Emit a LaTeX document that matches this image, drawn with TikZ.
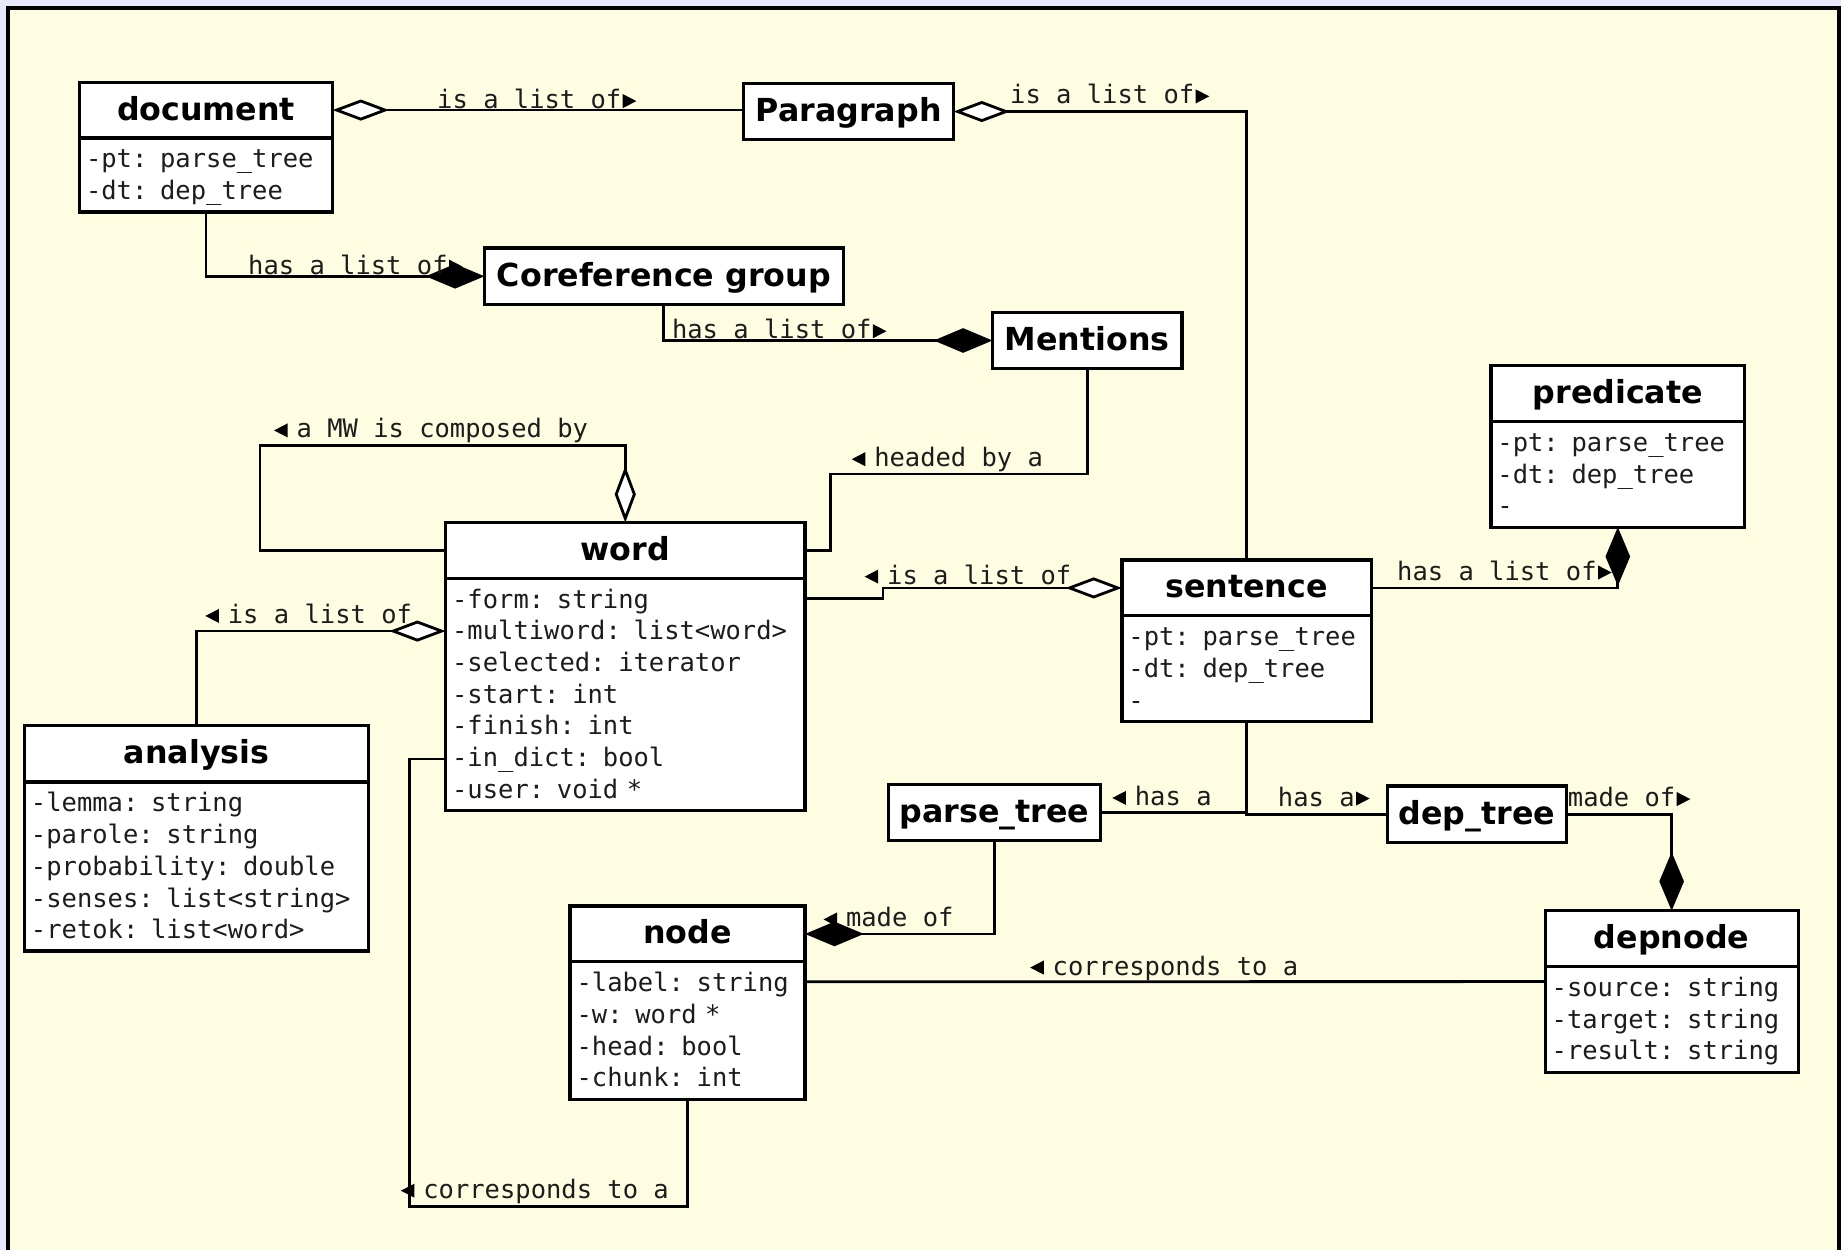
\documentclass[tikz,border=0pt]{standalone}
\usepackage{fontspec}
\setmainfont{DejaVu Sans}
\newfontfamily\monof{DejaVu Sans Mono}
\usetikzlibrary{arrows.meta,calc}
\definecolor{bgyel}{RGB}{255,253,225}
\definecolor{lav}{RGB}{232,232,250}
\definecolor{txt}{RGB}{28,28,28}
\newcommand\astrut{\rule[-3pt]{0pt}{13.5pt}}
\newcommand\tstrut{\rule[-4.5pt]{0pt}{17.5pt}}
\newcommand\trR{\hspace{0.6pt}\tikz[baseline=0pt,x=1pt,y=1pt]\fill[black] (0,0.2)--(0,6.2)--(5.8,3.2)--cycle;}
\newcommand\trL{\tikz[baseline=0pt,x=1pt,y=1pt]\fill[black] (5.8,0.2)--(5.8,6.2)--(0,3.2)--cycle;\hspace{3.8pt}}
\begin{document}
\begin{tikzpicture}[x=0.5pt,y=-0.5pt,
  title/.style={draw, fill=white, line width=1.4pt, anchor=north west, inner sep=0pt, outer sep=0pt,
    minimum height=23.75pt, font=\bfseries\fontsize{13.5}{17.5}\selectfont, execute at begin node=\tstrut},
  attrs/.style={draw, fill=white, line width=1.4pt, anchor=north west, inner xsep=2.8pt, inner ysep=2.25pt,
    outer sep=0pt, align=left, font=\monof\fontsize{10.85}{13.5}\selectfont, text=txt},
  lbl/.style={anchor=base west, inner sep=0pt, font=\monof\fontsize{10.85}{13.5}\selectfont, text=txt},
  conn/.style={line width=1.2pt},
  odS/.style={conn, arrows={Diamond[length=24pt,width=9pt,fill=white]-}},
  odE/.style={conn, arrows={-Diamond[length=24pt,width=9pt,fill=white]}},
  fdE/.style={conn, arrows={-Diamond[length=25pt,width=10.5pt]}},
]
\useasboundingbox (0,0) rectangle (1568,1065);
% frame
\fill[lav] (0,0) rectangle (1568,1065);
\fill[bgyel] (6.8,6.8) rectangle (1566.5,1065);
\draw[line width=1.7pt] (6.8,1065) -- (6.8,6.8) -- (1566.5,6.8) -- (1566.5,1065);

% classes
\node[title, minimum width=107.8pt] (docT) at (67.7,70) {document};
\node[attrs, text width=102.2pt] (docA) at (docT.south west) {\astrut-pt: parse\_tree\\-dt: dep\_tree\astrut};

\node[title, minimum width=89.35pt, minimum height=24pt] (paraT) at (633.5,71) {Paragraph};
\node[title, minimum width=152.85pt, minimum height=24pt] (corefT) at (412.6,211.3) {Coreference group};
\node[title, minimum width=80.75pt, minimum height=24pt] (mentT) at (845.3,266) {Mentions};

\node[title, minimum width=108.1pt] (predT) at (1269.8,311.5) {predicate};
\node[attrs, text width=102.5pt] (predA) at (predT.south west) {\astrut-pt: parse\_tree\\-dt: dep\_tree\\-\astrut};

\node[title, minimum width=153.05pt] (wordT) at (379.5,445) {word};
\node[attrs, text width=147.45pt] (wordA) at (wordT.south west) {\astrut-form: string\\-multiword: list<word>\\-selected: iterator\\-start: int\\-finish: int\\-in\_dict: bool\\-user: void *\astrut};

\node[title, minimum width=106.25pt] (sentT) at (955.5,477) {sentence};
\node[attrs, text width=100.65pt] (sentA) at (sentT.south west) {\astrut-pt: parse\_tree\\-dt: dep\_tree\\-\astrut};

\node[title, minimum width=146.6pt, minimum height=24pt] (analT) at (20.8,618) {analysis};
\node[attrs, text width=141pt] (analA) at (analT.south west) {\astrut-lemma: string\\-parole: string\\-probability: double\\-senses: list<string>\\-retok: list<word>\astrut};

\node[title, minimum width=90pt, minimum height=24pt] (ptree) at (757,668) {parse\_tree};
\node[title, minimum width=76.25pt, minimum height=24pt] (dtree) at (1181.5,669.5) {dep\_tree};

\node[title, minimum width=100.1pt] (nodeT) at (485.5,771.7) {node};
\node[attrs, text width=94.5pt] (nodeA) at (nodeT.south west) {\astrut-label: string\\-w: word *\\-head: bool\\-chunk: int\astrut};

\node[title, minimum width=107.75pt] (depT) at (1316,775.7) {depnode};
\node[attrs, text width=102.15pt] (depA) at (depT.south west) {\astrut-source: string\\-target: string\\-result: string\astrut};

% connectors
\draw[odS] (docT.east) -- (docT.east -| paraT.west);
\draw[odS] (paraT.east) -| (sentT.north);
\draw[fdE] (docA.south) |- (corefT.west);
\draw[fdE] (corefT.south) |- (mentT.west);
\draw[conn] (mentT.south) |- (707,403.7) |- (wordT.east);
\draw[odS] (wordT.north) |- (221.5,379.6) |- (wordT.west);
\draw[odE] ($(wordA.north east)+(0,17)$) -| ($(sentT.west)+(-203.5,0)$) -- (sentT.west);
\draw[odE] (analT.north) |- ($(wordA.north west)+(0,45)$);
\draw[conn] ($(wordA.north west)+(0,154)$) -| (348.6,1027.8) -| (nodeA.south);
\draw[fdE] (sentT.east) -| (predA.south);
\draw[conn] (sentA.south) |- (ptree.east);
\draw[conn] (sentA.south) |- (dtree.west);
\draw[fdE] (dtree.east) -| (depT.north);
\draw[fdE] (ptree.south) |- (nodeT.east);
\draw[conn] ($(nodeA.north east)+(0,17)$) -- ($(depA.north west)+(0,12.8)$);

% labels
\node[lbl] (l1) at (372,92.5) {is a list of\trR};
\node[lbl] (l2) at (860,88.5) {is a list of\trR};
\node[lbl] (l3) at (211,233.5) {has a list of\trR};
\node[lbl] (l4) at (572,288.5) {has a list of\trR};
\node[lbl] (l5) at (725,397.5) {\trL headed by a};
\node[lbl] (l6) at (233,373) {\trL a MW is composed by};
\node[lbl] (l7) at (736,497.5) {\trL is a list of};
\node[lbl] (l8) at (174.5,531) {\trL is a list of};
\node[lbl] (l9) at (341,1020.5) {\trL corresponds to a};
\node[lbl] (l10) at (1189.6,494) {has a list of\trR};
\node[lbl] (l11) at (947,686) {\trL has a};
\node[lbl] (l12) at (1088,686.5) {has a\trR};
\node[lbl] (l13) at (1335,687) {made of\trR};
\node[lbl] (l14) at (701,789.5) {\trL made of};
\node[lbl] (l15) at (877,830.5) {\trL corresponds to a};
\end{tikzpicture}
\end{document}
